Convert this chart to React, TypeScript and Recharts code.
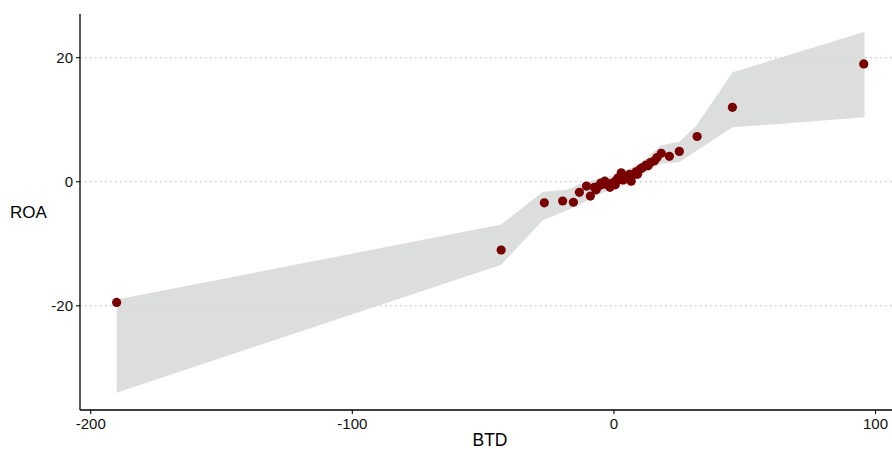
import React from "react";
import {
  ComposedChart,
  Area,
  Scatter,
  XAxis,
  YAxis,
  CartesianGrid,
} from "recharts";

// Observed firms: book-tax difference vs return on assets
const pointBTD = [
  -190.1, -43.1, -26.6, -19.6, -15.5, -13.2, -10.5, -9.0, -7.5, -6.8, -5.5,
  -5.0, -4.0, -3.5, -3.0, -2.0, -1.5, -1.0, 0.0, 0.5, 1.0, 1.5, 2.0, 2.8, 3.5,
  4.0, 5.0, 6.0, 6.6, 7.0, 8.5, 9.0, 10.0, 11.0, 12.3, 13.0, 14.0, 15.5, 16.5,
  18.1, 21.2, 25.0, 31.8, 45.3, 95.5,
];
const pointROA = [
  -19.45, -11.0, -3.4, -3.1, -3.3, -1.7, -0.7, -2.3, -0.9, -1.3, -0.6, -0.2,
  -0.4, 0.1, -0.2, -0.6, -0.9, -0.3, -0.1, -0.5, 0.2, 0.6, 0.4, 1.45, 0.3, 0.6,
  0.9, 1.2, 0.1, 1.0, 1.6, 1.2, 2.0, 2.3, 2.7, 2.6, 3.1, 3.4, 3.9, 4.6, 4.1,
  4.9, 7.3, 12.0, 19.0,
];

// Confidence band vertices (lower / upper bound of ROA)
const bandBTD = [-190.1, -43.1, -27.2, -17.8, -13.2, -5.0, 0.0, 6.6, 12.3, 18.0, 25.0, 31.4, 45.4, 95.8];
const bandLow = [-34.0, -13.4, -6.2, -4.6, -3.7, -1.9, -1.1, -0.1, 1.5, 2.9, 3.2, 4.95, 8.77, 10.39];
const bandHigh = [-19.0, -6.9, -1.6, -1.3, -0.4, 0.6, 1.0, 2.2, 3.7, 5.9, 6.45, 8.98, 17.65, 24.2];

const xTicks = [-200, -100, 0, 100];
const yTicks = [-20, 0, 20];
const xDomain: [number, number] = [-204.1, 106.3];
const yDomain: [number, number] = [-36.8, 27.05];

const bandData = bandBTD.map((btd, i) => ({ btd, range: [bandLow[i], bandHigh[i]] }));
const pointData = pointBTD.map((btd, i) => ({ btd, roa: pointROA[i] }));

const FONT = "'Liberation Sans', Arial, Helvetica, sans-serif";

const Dot = (props: any) => {
  const { cx, cy } = props;
  if (cx == null || cy == null) return null;
  return <circle cx={cx} cy={cy} r={4.6} fill="#780000" />;
};

// Grid lines only at the labelled ROA ticks
const gridRows = ({ offset }: any) =>
  yTicks.map(
    (t) => offset.top + ((yDomain[1] - t) / (yDomain[1] - yDomain[0])) * offset.height
  );

export default function App() {
  return (
    <div style={{ position: "absolute", left: 0, top: 0, background: "#fff" }}>
      <ComposedChart
        width={892}
        height={449}
        data={bandData}
        margin={{ top: 14, right: 0, bottom: 0, left: 0 }}
      >
        <CartesianGrid
          vertical={false}
          horizontal
          horizontalCoordinatesGenerator={gridRows}
          stroke="#b8b8b8"
          strokeDasharray="1.5 3.5"
          strokeWidth={1.1}
        />
        <XAxis
          dataKey="btd"
          type="number"
          domain={xDomain}
          ticks={xTicks}
          allowDataOverflow
          height={39}
          tickSize={4}
          tickMargin={4}
          tickLine={{ stroke: "#000", strokeWidth: 1.1 }}
          axisLine={{ stroke: "#000", strokeWidth: 1.3 }}
          tick={{ fill: "#111", fontSize: 15, fontFamily: FONT }}
          label={{
            value: "BTD",
            position: "insideBottom",
            offset: 3.5,
            dx: 4,
            fill: "#000",
            fontSize: 17.5,
            fontFamily: FONT,
          }}
        />
        <YAxis
          type="number"
          domain={yDomain}
          ticks={yTicks}
          allowDataOverflow
          width={80}
          tickSize={4}
          tickMargin={3}
          tickLine={{ stroke: "#000", strokeWidth: 1.1 }}
          axisLine={{ stroke: "#000", strokeWidth: 1.3 }}
          tick={{ fill: "#111", fontSize: 15, fontFamily: FONT }}
          label={{
            value: "ROA",
            position: "insideLeft",
            offset: 10,
            angle: 0,
            fill: "#000",
            fontSize: 17,
            fontFamily: FONT,
          }}
        />
        <Area
          dataKey="range"
          type="linear"
          stroke="none"
          fill="#d6d7d7"
          fillOpacity={0.85}
          isAnimationActive={false}
          activeDot={false}
          dot={false}
        />
        <Scatter
          data={pointData}
          dataKey="roa"
          shape={Dot}
          isAnimationActive={false}
        />
      </ComposedChart>
    </div>
  );
}
